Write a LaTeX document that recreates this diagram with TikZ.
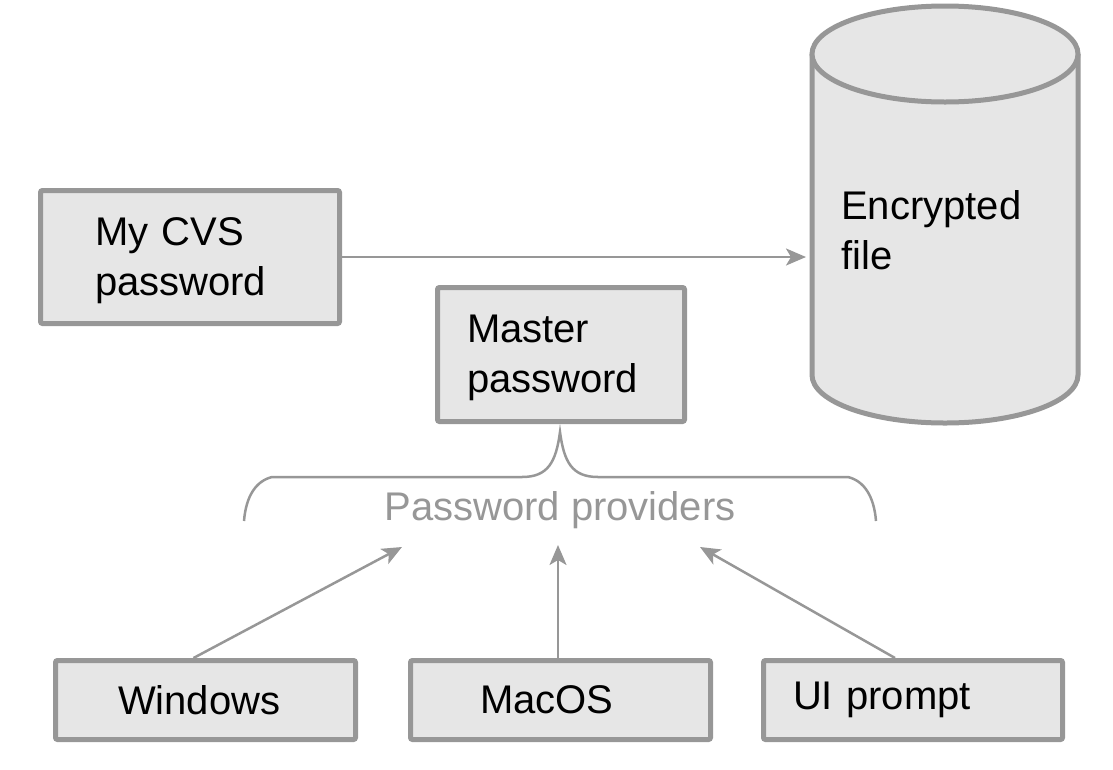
\documentclass[tikz,border=0pt]{standalone}
\usepackage{fontspec}
\setmainfont{Liberation Sans}
\usetikzlibrary{arrows.meta}
\definecolor{edgegray}{HTML}{979797}
\definecolor{boxfill}{HTML}{E6E6E6}
\newcommand{\topstrut}{\rule{0pt}{35pt}}
\begin{document}
\begin{tikzpicture}[x=1pt, y=-1pt, font=\fontsize{40}{50}\selectfont,
    box/.style={draw=edgegray, fill=boxfill, line width=5pt, rounded corners=2pt, align=left, inner ysep=0pt},
    link/.style={draw=edgegray, line width=2.5pt, -{Stealth[length=20pt, width=17pt, inset=5pt]}}]
  \useasboundingbox (0,0) rectangle (1113,769);
  % encrypted file
  \filldraw[draw=edgegray, fill=boxfill, line width=5pt] (812,54) -- (812,375) arc[start angle=180, end angle=0, x radius=133, y radius=48] -- (1078,54);
  \filldraw[draw=edgegray, fill=boxfill, line width=5pt] (945,54) ellipse[x radius=133, y radius=48];
  \node[anchor=north west, inner sep=0pt, align=left] (file) at (841,190) {Encrypted\\file};
  \coordinate (filein) at (806,257);

  \node[box, text width=190pt, inner xsep=54.5pt, minimum height=133pt] (cvs) at (190,257) {\topstrut My CVS\\password};
  \node[box, text width=188pt, inner xsep=29.5pt, minimum height=134pt] (master) at (561,354.5) {\topstrut Master\\password};
  \draw[link] (cvs) -- (filein);

  % brace
  \draw[edgegray, line width=2.5pt] (244,521) .. controls (246,496) and (256,481) .. (272,477) -- (522,477)
    .. controls (548,477) and (556,462) .. (560,432) .. controls (564,462) and (572,477) .. (598,477)
    -- (848,477) .. controls (864,481) and (874,496) .. (876,521);
  \node[text=edgegray, inner sep=0pt, anchor=base] (prov) at (560,520) {Password providers};
  \coordinate (provl) at (402,547);
  \coordinate (provm) at (558,545);
  \coordinate (provr) at (700,547);

  \node[box, text width=175pt, inner xsep=62.5pt, minimum height=79pt] (win) at (205.5,700) {Windows};
  \node[box, text width=161pt, inner xsep=69.5pt, minimum height=79pt] (mac) at (560.5,700) {MacOS};
  \node[box, text width=240pt, inner xsep=29.5pt, minimum height=79pt] (ui) at (913,700) {UI prompt};
  \draw[link] ([xshift=-12pt]win.north) -- (provl);
  \draw[link] (mac.north -| provm) -- (provm);
  \draw[link] ([xshift=-18pt]ui.north) -- (provr);
\end{tikzpicture}
\end{document}
